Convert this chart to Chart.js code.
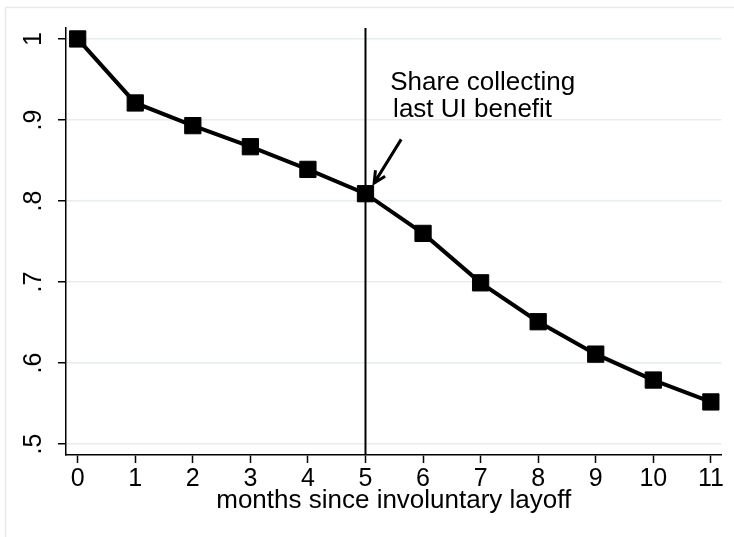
<!DOCTYPE html>
<html lang="en">
  <head>
    <meta charset="UTF-8">
    <title>Share collecting UI benefits</title>
    <script src="https://cdn.jsdelivr.net/npm/chart.js"></script>
    <style>
      body {
        margin: 0;
        background: #ffffff;
      }
      canvas {
        display: block;
      }
    </style>
  </head>
  <body>
    <canvas id="uiChart" width="734" height="537"></canvas>
    <script>
      // data
      const months = [0, 1, 2, 3, 4, 5, 6, 7, 8, 9, 10, 11];
      const shareCollecting = [1.0, 0.921, 0.893, 0.867, 0.839, 0.809, 0.760, 0.699, 0.651, 0.611, 0.579, 0.552];
      const xTicks = [0, 1, 2, 3, 4, 5, 6, 7, 8, 9, 10, 11];
      const yTicks = [0.5, 0.6, 0.7, 0.8, 0.9, 1];
      const yTickLabels = ['.5', '.6', '.7', '.8', '.9', '1'];
      const lastBenefitMonth = 5;
      const noteLines = ['Share collecting', 'last UI benefit'];

      // annotation placement, in data units
      const notePos = { x1: 5.43, y1: 0.946, x2: 5.48, y2: 0.9125 };
      const arrowFrom = { x: 5.62, y: 0.876 };
      const arrowTo = { x: 5.15, y: 0.822 };

      const FONT = "'Liberation Sans', Arial, sans-serif";

      const extras = {
        id: 'extras',
        beforeDraw(chart) {
          // light outer frame of the graph region
          const ctx = chart.ctx;
          ctx.save();
          ctx.strokeStyle = '#e3eaee';
          ctx.lineWidth = 1.5;
          ctx.strokeRect(5.5, 7.5, 800, 600);
          ctx.restore();
        },
        beforeDatasetsDraw(chart) {
          // vertical line at the month of the last benefit
          const { ctx, chartArea, scales } = chart;
          const x = scales.x.getPixelForValue(lastBenefitMonth);
          ctx.save();
          ctx.strokeStyle = '#000';
          ctx.lineWidth = 2;
          ctx.beginPath();
          ctx.moveTo(x, chartArea.top);
          ctx.lineTo(x, chartArea.bottom);
          ctx.stroke();
          ctx.restore();
        },
        afterDraw(chart) {
          const { ctx, scales } = chart;
          const sx = scales.x, sy = scales.y;
          ctx.save();
          ctx.fillStyle = '#000';
          ctx.font = '26px ' + FONT;
          ctx.textBaseline = 'middle';
          ctx.textAlign = 'left';
          ctx.fillText(noteLines[0], sx.getPixelForValue(notePos.x1), sy.getPixelForValue(notePos.y1));
          ctx.fillText(noteLines[1], sx.getPixelForValue(notePos.x2), sy.getPixelForValue(notePos.y2));

          // arrow
          const x0 = sx.getPixelForValue(arrowFrom.x), y0 = sy.getPixelForValue(arrowFrom.y);
          const x1 = sx.getPixelForValue(arrowTo.x), y1 = sy.getPixelForValue(arrowTo.y);
          const ang = Math.atan2(y1 - y0, x1 - x0);
          const head = 13;
          ctx.strokeStyle = '#000';
          ctx.lineWidth = 3;
          ctx.beginPath();
          ctx.moveTo(x0, y0);
          ctx.lineTo(x1, y1);
          ctx.moveTo(x1 - head * Math.cos(ang - 0.45), y1 - head * Math.sin(ang - 0.45));
          ctx.lineTo(x1, y1);
          ctx.lineTo(x1 - head * Math.cos(ang + 0.45), y1 - head * Math.sin(ang + 0.45));
          ctx.stroke();
          ctx.restore();
        }
      };

      new Chart(document.getElementById('uiChart'), {
        type: 'line',
        data: {
          datasets: [{
            data: months.map((m, i) => ({ x: m, y: shareCollecting[i] })),
            borderColor: '#000',
            borderWidth: 4,
            pointStyle: 'rect',
            pointRadius: 11.5,
            pointBackgroundColor: '#000',
            pointBorderColor: '#000',
            pointBorderWidth: 1,
            tension: 0,
            clip: false
          }]
        },
        options: {
          responsive: false,
          animation: false,
          events: [],
          layout: { padding: { top: 26, right: 11, left: 0, bottom: 0 } },
          plugins: {
            legend: { display: false },
            tooltip: { enabled: false }
          },
          scales: {
            x: {
              type: 'linear',
              min: -0.203,
              max: 11.185,
              afterFit: (s) => { s.height = 82; },
              afterBuildTicks: (s) => { s.ticks = xTicks.map(v => ({ value: v })); },
              grid: {
                drawOnChartArea: false,
                drawTicks: true,
                tickLength: 8,
                tickColor: '#000',
                tickWidth: 1.5
              },
              border: { display: true, color: '#000', width: 1.5 },
              ticks: {
                color: '#000',
                padding: 1,
                font: { family: FONT, size: 25 },
                callback: (v) => String(v)
              },
              title: {
                display: true,
                text: 'months since involuntary layoff',
                color: '#000',
                font: { family: FONT, size: 26 },
                padding: { top: 0, bottom: 21 }
              }
            },
            y: {
              type: 'linear',
              min: 0.4865,
              max: 1.0135,
              afterFit: (s) => { s.width = 66; },
              afterBuildTicks: (s) => { s.ticks = yTicks.map(v => ({ value: v })); },
              grid: {
                color: '#e6edf1',
                lineWidth: 1.5,
                drawTicks: true,
                tickLength: 8,
                tickColor: '#000',
                tickWidth: 1.5
              },
              border: { display: true, color: '#000', width: 1.5 },
              ticks: {
                color: '#000',
                minRotation: 90,
                maxRotation: 90,
                crossAlign: 'center',
                padding: 13,
                font: { family: FONT, size: 25 },
                callback: (v) => yTickLabels[yTicks.findIndex(t => Math.abs(t - v) < 1e-9)]
              }
            }
          }
        },
        plugins: [extras]
      });
    </script>
  </body>
</html>
